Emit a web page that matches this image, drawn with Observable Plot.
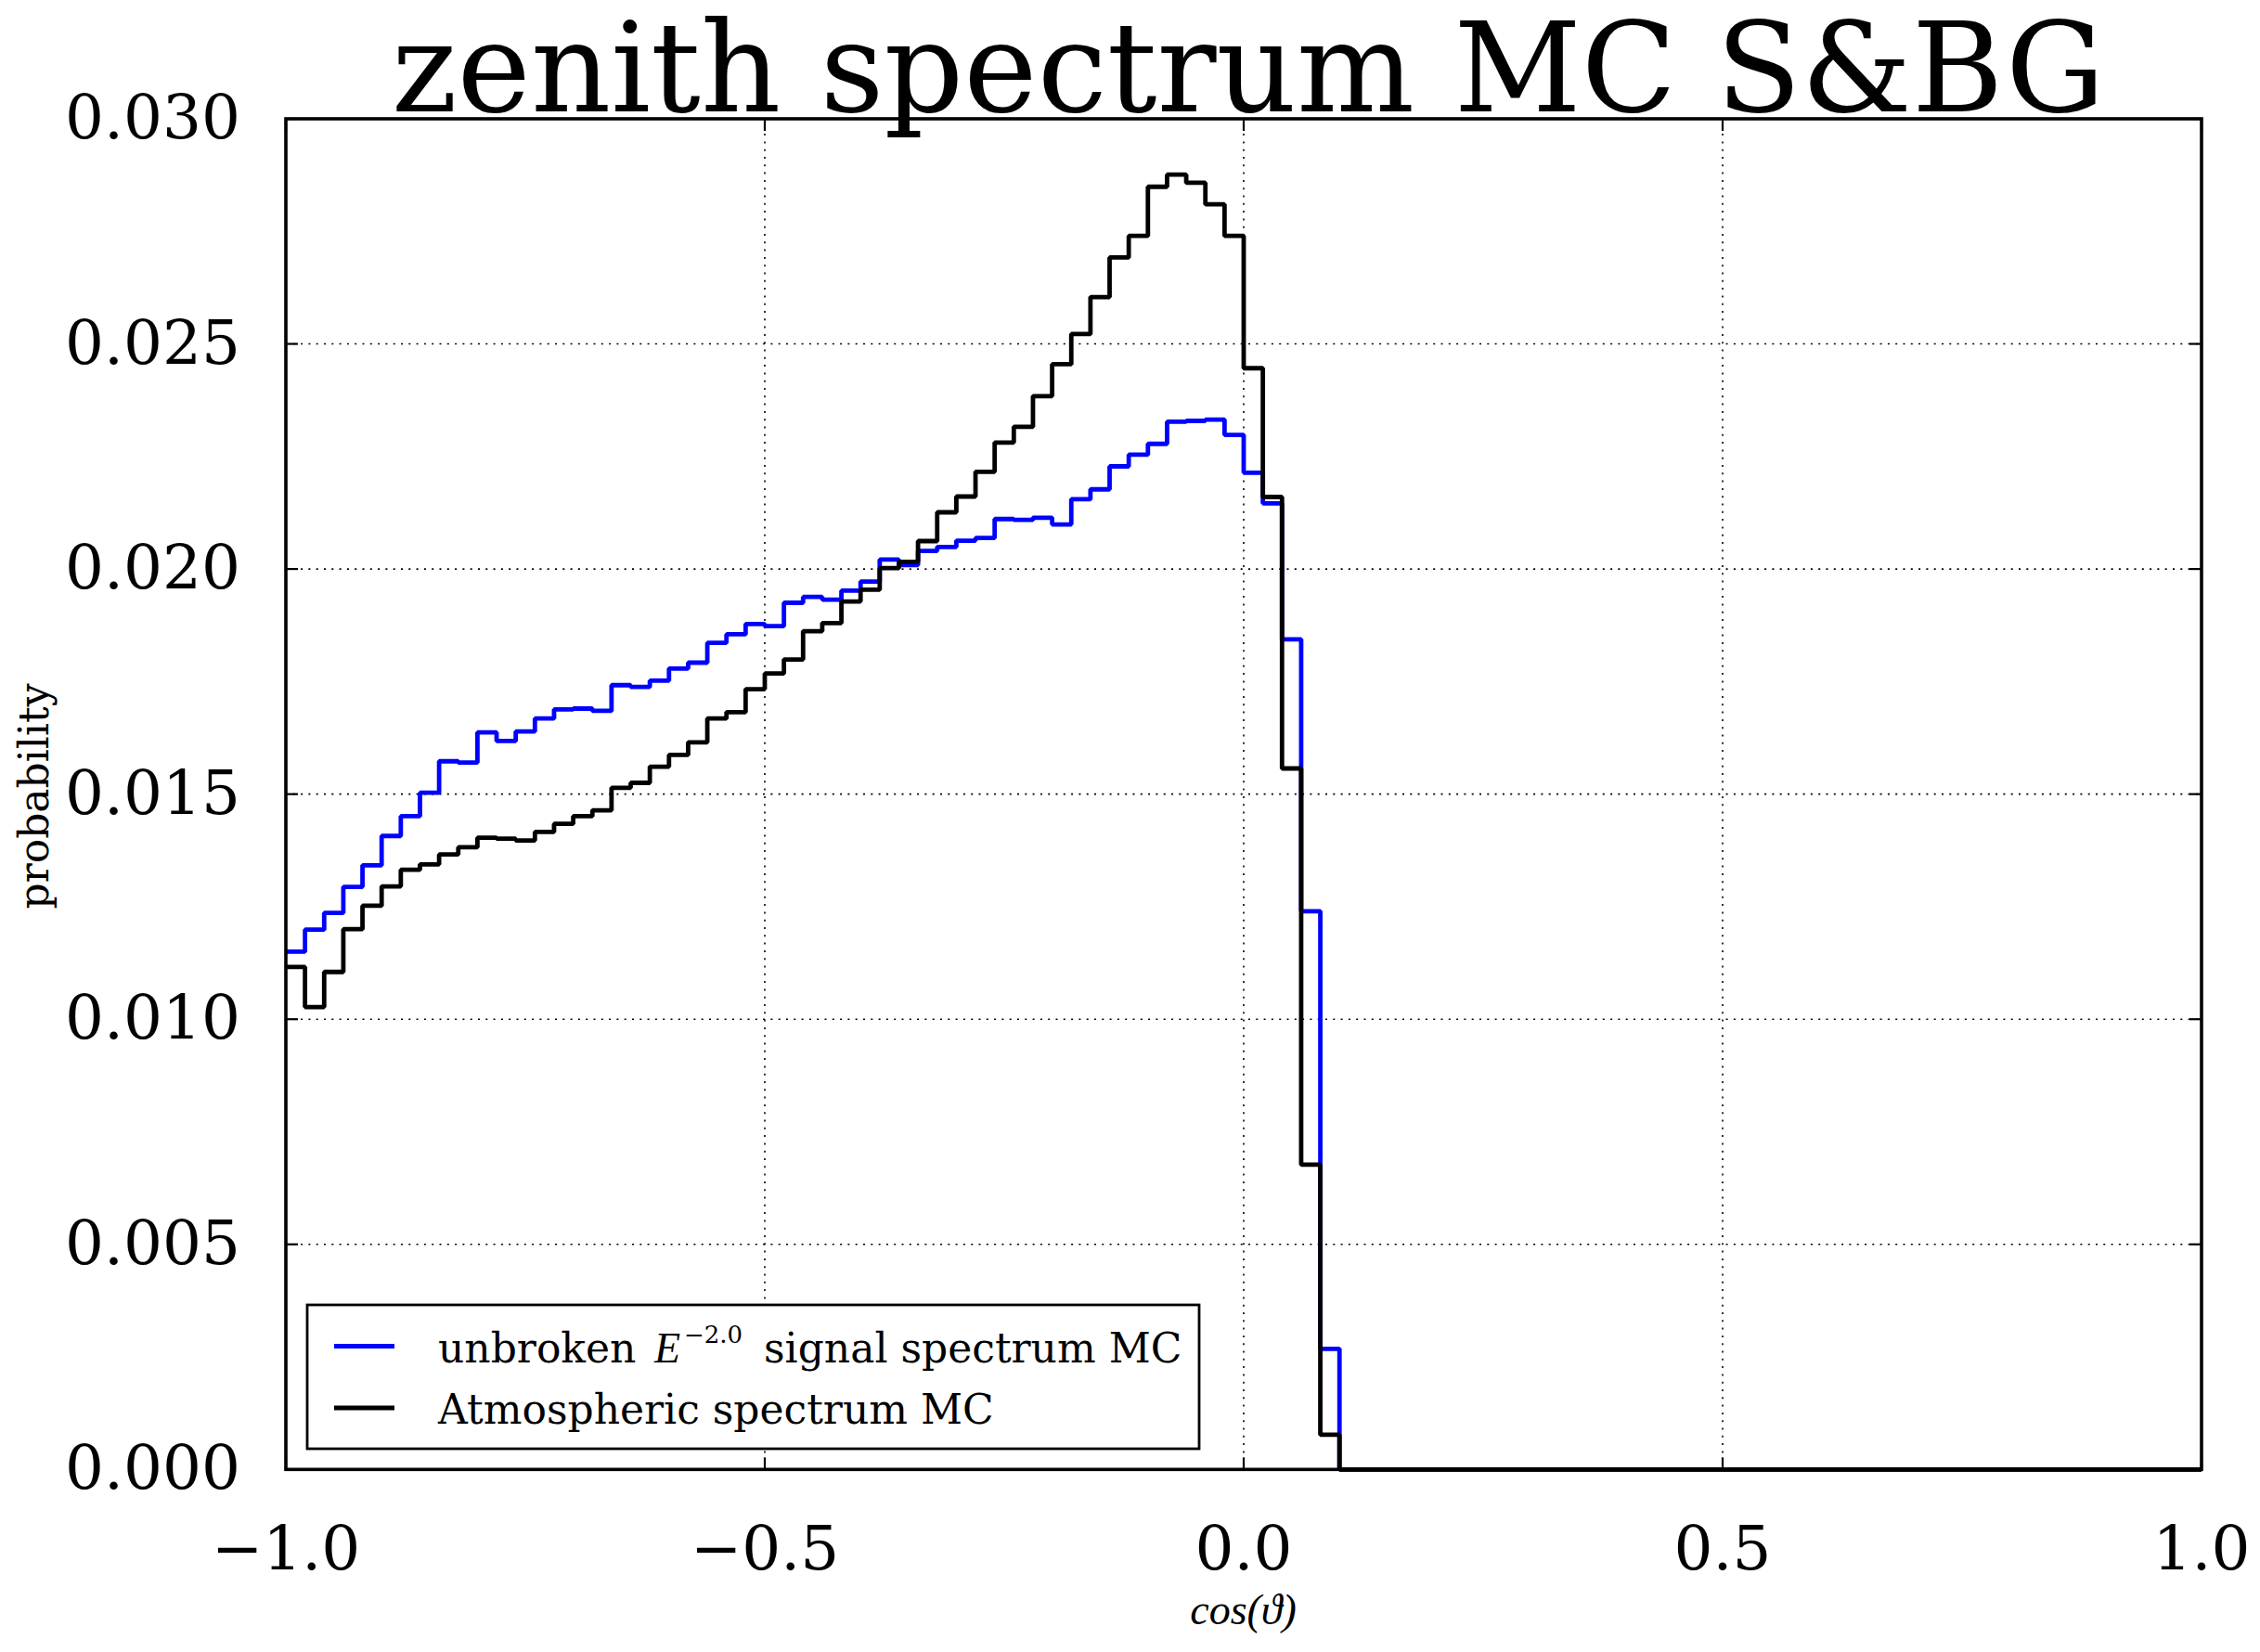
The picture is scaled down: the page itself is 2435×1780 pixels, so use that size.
<!DOCTYPE html>
<html>
<head>
<meta charset="utf-8">
<script src="https://cdn.jsdelivr.net/npm/d3@7"></script>
<script src="https://cdn.jsdelivr.net/npm/@observablehq/plot@0.6"></script>
<style>
  html, body { margin: 0; padding: 0; background: #fff; }
  #chart svg { display: block; }
</style>
</head>
<body>
<div id="chart"></div>
<script>
// ---- data ----
const binStart = -1.0;
const binWidth = 0.02;

const signalValues = [
  0.01150, 0.01199, 0.01236, 0.01294, 0.01342, 0.01407, 0.01451, 0.01503, 0.01573, 0.01570,
  0.01637, 0.01618, 0.01639, 0.01668, 0.01688, 0.01690, 0.01685, 0.01742, 0.01738, 0.01752,
  0.01779, 0.01792, 0.01836, 0.01855, 0.01878, 0.01873, 0.01925, 0.01938, 0.01932, 0.01952,
  0.01972, 0.02021, 0.02009, 0.02040, 0.02049, 0.02063, 0.02069, 0.02111, 0.02109, 0.02114,
  0.02099, 0.02155, 0.02177, 0.02228, 0.02254, 0.02278, 0.02327, 0.02329, 0.02332, 0.02298,
  0.02214, 0.02146, 0.01844, 0.01240, 0.00268, 0, 0, 0, 0, 0,
  0, 0, 0, 0, 0, 0, 0, 0, 0, 0,
  0, 0, 0, 0, 0, 0, 0, 0, 0, 0,
  0, 0, 0, 0, 0, 0, 0, 0, 0, 0,
  0, 0, 0, 0, 0, 0, 0, 0, 0, 0
];

const atmosphericValues = [
  0.01116, 0.01027, 0.01105, 0.01200, 0.01252, 0.01295, 0.01332, 0.01344, 0.01366, 0.01382,
  0.01403, 0.01401, 0.01397, 0.01416, 0.01434, 0.01451, 0.01464, 0.01514, 0.01525, 0.01561,
  0.01587, 0.01615, 0.01668, 0.01682, 0.01733, 0.01768, 0.01799, 0.01862, 0.01880, 0.01928,
  0.01954, 0.02002, 0.02016, 0.02062, 0.02126, 0.02161, 0.02216, 0.02281, 0.02316, 0.02384,
  0.02455, 0.02522, 0.02604, 0.02692, 0.02740, 0.02849, 0.02876, 0.02858, 0.02810, 0.02740,
  0.02446, 0.02160, 0.01557, 0.00677, 0.00077, 0, 0, 0, 0, 0,
  0, 0, 0, 0, 0, 0, 0, 0, 0, 0,
  0, 0, 0, 0, 0, 0, 0, 0, 0, 0,
  0, 0, 0, 0, 0, 0, 0, 0, 0, 0,
  0, 0, 0, 0, 0, 0, 0, 0, 0, 0
];

const seriesKeys = ["signal", "atmospheric"];
const seriesColors = ["#0000ff", "#000000"];
const xTicks = [-1.0, -0.5, 0.0, 0.5, 1.0];
const yTicks = [0.000, 0.005, 0.010, 0.015, 0.020, 0.025, 0.030];
const titleText = "zenith spectrum MC S&BG";
const xLabelText = "cos(\u03D1)";
const yLabelText = "probability";

// ---- build step tables ----
function stepPoints(values, key) {
  const n = values.length;
  const pts = values.map((v, i) => ({x: binStart + i * binWidth, y: v, key}));
  pts.push({x: binStart + n * binWidth, y: values[n - 1], key});
  pts.push({x: binStart + n * binWidth, y: 0, key});
  return pts;
}
const seriesData = [signalValues, atmosphericValues].map((v, i) => stepPoints(v, seriesKeys[i]));

const fmtX = d => (d < 0 ? "\u2212" : "") + Math.abs(d).toFixed(1);
const fmtY = d => d.toFixed(3);

// inward tick shapes
const TL = 13;
const tickUp = {draw(c) { c.moveTo(0, 0); c.lineTo(0, -TL); }};
const tickDown = {draw(c) { c.moveTo(0, 0); c.lineTo(0, TL); }};
const tickRight = {draw(c) { c.moveTo(0, 0); c.lineTo(TL, 0); }};
const tickLeft = {draw(c) { c.moveTo(0, 0); c.lineTo(-TL, 0); }};
const tickStyle = {fill: "none", stroke: "black", strokeWidth: 2.2};
const gridStyle = {stroke: "black", strokeOpacity: 1, strokeWidth: 1.6, strokeDasharray: "2,6.3"};

const W = 2435, H = 1780;
const mL = 307.5, mR = 63.5, mT = 127.5, mB = 197.2;
const LW = 4.8;

const chart = Plot.plot({
  width: W,
  height: H,
  marginLeft: mL,
  marginRight: mR,
  marginTop: mT,
  marginBottom: mB,
  style: {background: "#ffffff", fontFamily: "DejaVu Serif", overflow: "visible", color: "black"},
  x: {domain: [-1, 1]},
  y: {domain: [0, 0.03]},
  marks: [
    Plot.gridX(xTicks, gridStyle),
    Plot.gridY(yTicks, gridStyle),
    ...seriesData.map((d, i) => Plot.line(d, {
      x: "x", y: "y", curve: "step-after",
      stroke: seriesColors[i], strokeWidth: LW,
      strokeLinejoin: "miter", strokeLinecap: "butt"
    })),
    Plot.dot(xTicks, {x: d => d, frameAnchor: "bottom", symbol: tickUp, ...tickStyle}),
    Plot.dot(xTicks, {x: d => d, frameAnchor: "top", symbol: tickDown, ...tickStyle}),
    Plot.dot(yTicks, {y: d => d, frameAnchor: "left", symbol: tickRight, ...tickStyle}),
    Plot.dot(yTicks, {y: d => d, frameAnchor: "right", symbol: tickLeft, ...tickStyle}),
    Plot.axisX(xTicks, {
      anchor: "bottom", tickSize: 0, tickPadding: 61, tickFormat: fmtX,
      fontSize: 66, fontFamily: "DejaVu Serif", fill: "black", label: null
    }),
    Plot.axisY(yTicks, {
      anchor: "left", tickSize: 0, tickPadding: 49, tickFormat: fmtY,
      fontSize: 66, fontFamily: "DejaVu Serif", fill: "black", label: null
    }),
    Plot.frame({stroke: "black", strokeWidth: 3.6})
  ]
});

document.getElementById("chart").appendChild(chart);

// ---- title, axis labels, legend ----
const svg = d3.select(chart);
const plotCx = mL + (W - mL - mR) / 2;

svg.append("text")
  .attr("x", plotCx + 5.5).attr("y", 120)
  .attr("text-anchor", "middle")
  .attr("font-family", "DejaVu Serif").attr("font-size", 134)
  .attr("fill", "black")
  .text(titleText);

svg.append("text")
  .attr("x", plotCx).attr("y", 1750)
  .attr("text-anchor", "middle")
  .attr("font-family", "Liberation Serif").attr("font-style", "italic").attr("font-size", 46)
  .attr("fill", "black")
  .text(xLabelText);

svg.append("text")
  .attr("transform", "translate(52,858) rotate(-90)")
  .attr("text-anchor", "middle")
  .attr("font-family", "DejaVu Serif").attr("font-size", 44)
  .attr("fill", "black")
  .text(yLabelText);

const lg = svg.append("g").attr("text-anchor", "start");
lg.append("rect")
  .attr("x", 331).attr("y", 1406).attr("width", 961).attr("height", 155)
  .attr("fill", "white").attr("stroke", "black").attr("stroke-width", 2.8);
const rowsY = [1450.5, 1517];
rowsY.forEach((y, i) => {
  lg.append("line")
    .attr("x1", 360).attr("x2", 425).attr("y1", y).attr("y2", y)
    .attr("stroke", seriesColors[i]).attr("stroke-width", LW);
});
const t1 = lg.append("text")
  .attr("y", rowsY[0] + 17)
  .attr("text-anchor", "start")
  .attr("font-family", "DejaVu Serif").attr("font-size", 44).attr("fill", "black");
t1.append("tspan").attr("x", 472).text("unbroken");
t1.append("tspan").attr("x", 705)
  .attr("font-family", "Liberation Serif").attr("font-style", "italic").attr("font-size", 46).text("E");
t1.append("tspan").attr("x", 737).attr("dy", -20.5)
  .attr("font-size", 26).text("\u22122.0");
t1.append("tspan").attr("x", 823).attr("dy", 20.5).text("signal spectrum MC");

lg.append("text")
  .attr("x", 472).attr("y", rowsY[1] + 17)
  .attr("text-anchor", "start")
  .attr("font-family", "DejaVu Serif").attr("font-size", 44).attr("fill", "black")
  .text("Atmospheric spectrum MC");
</script>
</body>
</html>
